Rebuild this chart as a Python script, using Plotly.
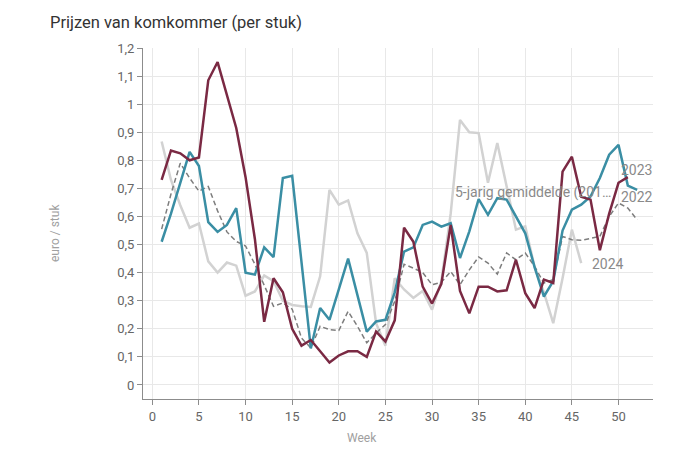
import plotly.graph_objects as go

weeks_2022 = list(range(1, 52))
prices_2022 = [0.73, 0.835, 0.825, 0.80, 0.81, 1.085, 1.15, 1.03, 0.915, 0.74,
               0.52, 0.225, 0.38, 0.33, 0.20, 0.14, 0.16, 0.12, 0.08, 0.105,
               0.12, 0.12, 0.10, 0.19, 0.155, 0.23, 0.56, 0.51, 0.35, 0.29,
               0.36, 0.57, 0.335, 0.255, 0.35, 0.35, 0.333, 0.337, 0.446, 0.327,
               0.274, 0.375, 0.363, 0.76, 0.813, 0.67, 0.66, 0.48, 0.61, 0.72,
               0.74]

weeks_2023 = list(range(1, 53))
prices_2023 = [0.51, 0.61, 0.72, 0.83, 0.78, 0.58, 0.545, 0.57, 0.63, 0.40,
               0.393, 0.49, 0.455, 0.737, 0.745, 0.43, 0.13, 0.274, 0.232, 0.34,
               0.45, 0.32, 0.19, 0.226, 0.232, 0.33, 0.475, 0.49, 0.57, 0.582,
               0.564, 0.576, 0.452, 0.547, 0.662, 0.606, 0.665, 0.66, 0.60, 0.54,
               0.42, 0.315, 0.37, 0.55, 0.624, 0.642, 0.671, 0.737, 0.82, 0.855,
               0.71, 0.695]

weeks_2024 = list(range(1, 47))
prices_2024 = [0.867, 0.73, 0.64, 0.56, 0.575, 0.44, 0.40, 0.436, 0.425, 0.318,
               0.333, 0.39, 0.37, 0.30, 0.285, 0.28, 0.278, 0.387, 0.695, 0.642,
               0.657, 0.54, 0.47, 0.22, 0.14, 0.38, 0.34, 0.31, 0.335, 0.268,
               0.37, 0.61, 0.944, 0.90, 0.897, 0.72, 0.862, 0.707, 0.553, 0.565,
               0.42, 0.33, 0.22, 0.38, 0.553, 0.434]

weeks_avg = list(range(1, 53))
prices_avg = [0.555, 0.68, 0.79, 0.737, 0.69, 0.707, 0.62, 0.545, 0.511, 0.495,
              0.43, 0.357, 0.28, 0.292, 0.27, 0.167, 0.132, 0.209, 0.197, 0.194,
              0.262, 0.209, 0.15, 0.185, 0.215, 0.298, 0.43, 0.416, 0.40, 0.357,
              0.366, 0.404, 0.357, 0.41, 0.456, 0.434, 0.395, 0.47, 0.446, 0.47,
              0.422, 0.363, 0.375, 0.529, 0.517, 0.515, 0.523, 0.529, 0.60, 0.648,
              0.63, 0.588]

x_ticks = [0, 5, 10, 15, 20, 25, 30, 35, 40, 45, 50]
y_ticks = [0, 0.1, 0.2, 0.3, 0.4, 0.5, 0.6, 0.7, 0.8, 0.9, 1, 1.1, 1.2]

# label name, x (week), y (value), anchor
labels = [
    ("2023", 50.0, 0.764, "left"),
    ("2022", 50.0, 0.669, "left"),
    ("5-jarig gemiddelde (201…", 49.4, 0.685, "right"),
    ("2024", 46.96, 0.43, "left"),
]

MAROON = "#7a2943"
TEAL = "#3a8ea4"
LIGHT = "#d2d2d2"
DASH = "#7d7d7d"

fig = go.Figure()
fig.add_trace(go.Scatter(x=weeks_2024, y=prices_2024, mode="lines", name="2024",
                         line=dict(color=LIGHT, width=2.5)))
fig.add_trace(go.Scatter(x=weeks_avg, y=prices_avg, mode="lines", name="5-jarig gemiddelde",
                         line=dict(color=DASH, width=1.5, dash="5px,3px")))
fig.add_trace(go.Scatter(x=weeks_2023, y=prices_2023, mode="lines", name="2023",
                         line=dict(color=TEAL, width=2.5)))
fig.add_trace(go.Scatter(x=weeks_2022, y=prices_2022, mode="lines", name="2022",
                         line=dict(color=MAROON, width=2.5)))

font = "Roboto, Arial, sans-serif"
annotations = []
for text, lx, ly, anchor in labels:
    annotations.append(dict(x=lx, y=ly, xref="x", yref="y", text=text, showarrow=False,
                            xanchor=anchor, yanchor="middle",
                            font=dict(family=font, size=14, color="#8a8a8a")))
annotations.append(dict(x=-0.1725, y=0.473, xref="paper", yref="paper", text="euro / stuk",
                        textangle=-90, showarrow=False, xanchor="center", yanchor="middle",
                        font=dict(family=font, size=12, color="#a0a0a0")))
annotations.append(dict(x=0.429, y=-0.111, xref="paper", yref="paper", text="Week",
                        showarrow=False, xanchor="center", yanchor="middle",
                        font=dict(family=font, size=12, color="#a0a0a0")))

# page body adds an 8px offset; positions below are compensated for it
fig.update_layout(
    width=700, height=450,
    margin=dict(l=135, r=55, t=40, b=59),
    paper_bgcolor="white", plot_bgcolor="white",
    showlegend=False,
    separators=", ",
    title=dict(text="Prijzen van komkommer (per stuk)", x=42/700, xanchor="left",
               y=1-14/450, yanchor="middle", xref="container", yref="container",
               font=dict(family=font, size=16.5, color="#333333")),
    annotations=annotations,
    xaxis=dict(range=[-1, 53.7], tickvals=x_ticks, showgrid=True, gridcolor="#e8e8e8",
               gridwidth=1, zeroline=False, showline=True, linecolor="#8c8c8c", linewidth=1,
               ticks="outside", ticklen=5, tickcolor="#8c8c8c",
               tickfont=dict(family=font, size=13, color="#666666")),
    yaxis=dict(range=[-0.05, 1.2], tickvals=y_ticks, showgrid=True, gridcolor="#e8e8e8",
               gridwidth=1, zeroline=False, showline=True, linecolor="#8c8c8c", linewidth=1,
               ticks="outside", ticklen=5, tickcolor="#8c8c8c",
               tickfont=dict(family=font, size=13, color="#666666")),
)

fig.write_html("out.html")
